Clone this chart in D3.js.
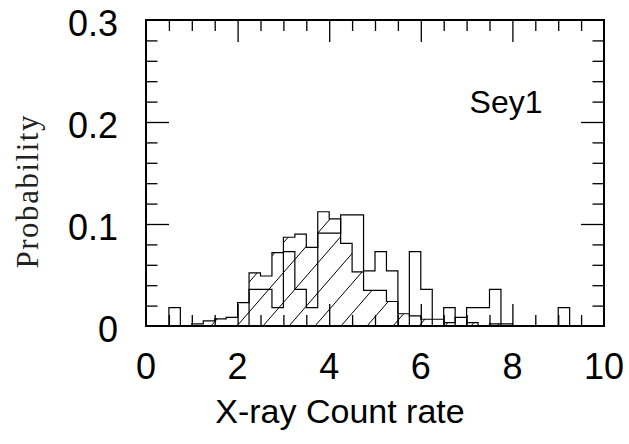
<!DOCTYPE html>
<html>
<head>
<meta charset="utf-8">
<script src="https://cdn.jsdelivr.net/npm/d3@7"></script>
<style>
  body { margin: 0; background: #fff; }
  text { font-family: "Liberation Sans", Arial, sans-serif; fill: #000; }
</style>
</head>
<body>
<div id="chart"></div>
<script>
// bin lower edges (width 0.25)
var binLo = [0, 0.25, 0.5, 0.75, 1, 1.25, 1.5, 1.75, 2, 2.25, 2.5, 2.75, 3, 3.25, 3.5, 3.75,
             4, 4.25, 4.5, 4.75, 5, 5.25, 5.5, 5.75, 6, 6.25, 6.5, 6.75, 7, 7.25, 7.5, 7.75,
             8, 8.25, 8.5, 8.75, 9, 9.25, 9.5, 9.75];
var binWidth = 0.25;

// open histogram (Sey1)
var sey1 = [0, 0, 0.018, 0, 0, 0, 0, 0, 0, 0.036, 0.036, 0.018, 0.073, 0.036, 0.018, 0.091,
            0.091, 0.109, 0.109, 0.054, 0.073, 0.054, 0, 0.073, 0.036, 0, 0.018, 0, 0.018, 0.018, 0.036, 0,
            0, 0, 0, 0, 0.018, 0, 0, 0];

// hatched histogram
var hatched = [0, 0, 0, 0, 0.002, 0.005, 0.007, 0.0085, 0.023, 0.052, 0.049, 0.072, 0.087, 0.090, 0.077, 0.112,
               0.105, 0.081, 0.053, 0.035, 0.035, 0.024, 0.012, 0.010, 0.0066, 0.0066, 0.0033, 0.0085, 0.0033, 0, 0.002, 0.002,
               0, 0, 0, 0, 0, 0, 0, 0];

var xMajor = [2, 4, 6, 8];
var xMinor = [0.5, 1, 1.5, 2.5, 3, 3.5, 4.5, 5, 5.5, 6.5, 7, 7.5, 8.5, 9, 9.5];
var xLabels = [0, 2, 4, 6, 8, 10];
var yMajor = [0.1, 0.2];
var yMinor = [0.02, 0.04, 0.06, 0.08, 0.12, 0.14, 0.16, 0.18, 0.22, 0.24, 0.26, 0.28];
var yLabels = [0, 0.1, 0.2, 0.3];

var width = 629, height = 444;
var margin = {top: 20, left: 146, right: 25, bottom: 118};

var svg = d3.select("#chart").append("svg")
    .attr("width", width)
    .attr("height", height);

var x = d3.scaleLinear().domain([0, 10]).range([margin.left, width - margin.right]);
var y = d3.scaleLinear().domain([0, 0.3]).range([height - margin.bottom, margin.top]);

function stepPoints(vals) {
  var pts = [[x(0), y(0)]];
  vals.forEach(function(v, i) {
    pts.push([x(binLo[i]), y(v)]);
    pts.push([x(binLo[i] + binWidth), y(v)]);
  });
  pts.push([x(10), y(0)]);
  return pts;
}
var line = d3.line();

// hatch clip = hatched histogram area
svg.append("clipPath").attr("id", "hclip")
  .append("path")
    .attr("d", line(stepPoints(hatched)) + "Z");

var hatchG = svg.append("g").attr("clip-path", "url(#hclip)");
var slope = 1.15, spacing = 26;
var plotH = y(0) - y(0.3);
var starts = d3.range(-14, 18).map(function(k) { return 237 + spacing * k; });
hatchG.selectAll("line")
  .data(starts)
  .enter().append("line")
    .attr("x1", d => d)
    .attr("y1", y(0))
    .attr("x2", d => d + plotH / slope)
    .attr("y2", y(0.3))
    .attr("stroke", "#000")
    .attr("stroke-width", 1);

svg.append("path")
    .attr("d", line(stepPoints(hatched)))
    .attr("fill", "none")
    .attr("stroke", "#000")
    .attr("stroke-width", 1.2);

svg.append("path")
    .attr("d", line(stepPoints(sey1)))
    .attr("fill", "none")
    .attr("stroke", "#000")
    .attr("stroke-width", 1.2);

// ticks (inward, all four sides)
function ticks(axis, vals, size, tr) {
  var g = svg.append("g")
      .attr("transform", tr)
      .call(axis.tickValues(vals).tickSize(size).tickFormat(""));
  g.select(".domain").remove();
  g.selectAll(".tick line").attr("stroke", "#000").attr("stroke-width", 1.3);
}
var bottomY = y(0), topY = y(0.3);
ticks(d3.axisBottom(x), xMinor, -11, "translate(0," + bottomY + ")");
ticks(d3.axisBottom(x), xMajor, -22, "translate(0," + bottomY + ")");
ticks(d3.axisTop(x), xMinor, -11, "translate(0," + topY + ")");
ticks(d3.axisTop(x), xMajor, -22, "translate(0," + topY + ")");
ticks(d3.axisLeft(y), yMinor, -11.5, "translate(" + x(0) + ",0)");
ticks(d3.axisLeft(y), yMajor, -23, "translate(" + x(0) + ",0)");
ticks(d3.axisRight(y), yMinor, -11.5, "translate(" + x(10) + ",0)");
ticks(d3.axisRight(y), yMajor, -23, "translate(" + x(10) + ",0)");

// frame
svg.append("rect")
    .attr("x", x(0)).attr("y", y(0.3))
    .attr("width", x(10) - x(0)).attr("height", y(0) - y(0.3))
    .attr("fill", "none")
    .attr("stroke", "#000")
    .attr("stroke-width", 2);

// tick labels
svg.selectAll(".xlab")
  .data(xLabels)
  .enter().append("text")
    .attr("class", "xlab")
    .attr("x", d => x(d))
    .attr("y", 379)
    .attr("text-anchor", "middle")
    .attr("font-size", 36)
    .text(d => d);

svg.selectAll(".ylab")
  .data(yLabels)
  .enter().append("text")
    .attr("class", "ylab")
    .attr("x", 118)
    .attr("y", d => y(d) + 3)
    .attr("text-anchor", "end")
    .attr("dominant-baseline", "central")
    .attr("font-size", 36)
    .text(d => d);

svg.append("text")
    .attr("x", 340)
    .attr("y", 423)
    .attr("text-anchor", "middle")
    .attr("font-size", 34)
    .text("X-ray Count rate");

svg.append("text")
    .attr("transform", "translate(38,192) rotate(-90)")
    .attr("text-anchor", "middle")
    .style("font-family", "'Liberation Serif', serif")
    .attr("font-size", 31)
    .attr("textLength", 153)
    .attr("lengthAdjust", "spacing")
    .style("fill", "#222")
    .text("Probability");

svg.append("text")
    .attr("x", 506)
    .attr("y", 113)
    .attr("text-anchor", "middle")
    .attr("font-size", 32)
    .text("Sey1");
</script>
</body>
</html>
